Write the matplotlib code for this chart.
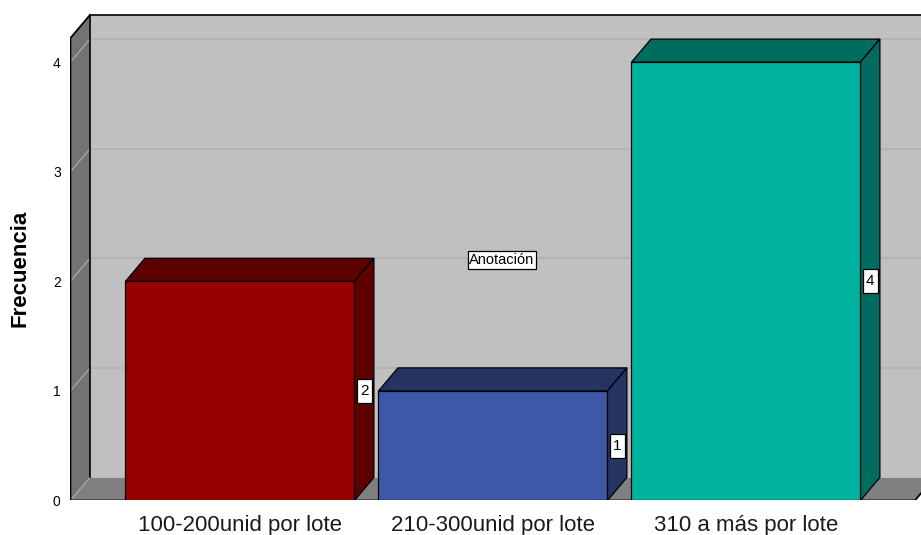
import matplotlib
matplotlib.use("Agg")
import matplotlib.pyplot as plt
from matplotlib.patches import Polygon, Rectangle

# data
categories = ["100-200unid por lote", "210-300unid por lote", "310 a más por lote"]
counts = [2, 1, 4]
front_colors = ["#990000", "#3e58a8", "#00b39e"]
dark_colors = ["#5f0000", "#263463", "#006b5f"]
yticks = [0, 1, 2, 3, 4]

plt.rcParams["font.family"] = ["Liberation Sans", "DejaVu Sans"]

DX, DY = 0.077, 0.21          # depth offset of the 3D look (data units)
X0, X1 = -0.670, 2.692        # front plane x range
FLOOR_R = 2.668
TOP = 4.22                    # front top of left wall
W = 0.905                     # bar width

fig = plt.figure(figsize=(9.21, 5.35), dpi=100)
ax = fig.add_axes([0.0765, 0.0645, 1 - 0.0765, 0.9355])
ax.set_xlim(X0, X1)
ax.set_ylim(0, 4.567)
for s in ax.spines.values():
    s.set_visible(False)


def poly(pts, fc, ec="black", lw=0.9, z=1):
    ax.add_patch(Polygon(pts, closed=True, facecolor=fc, edgecolor=ec,
                         linewidth=lw, zorder=z, joinstyle="miter"))


# back wall
poly([(X0 + DX, DY), (X1 + 1, DY), (X1 + 1, TOP + DY), (X0 + DX, TOP + DY)],
     "#c0c0c0", ec="none", z=0)
for v in yticks[1:]:
    ax.plot([X0 + DX, X1 + 1], [v + DY, v + DY], color="#b0b0b0", lw=1.1, zorder=0.5)
ax.plot([X0 + DX, X1 + 1], [TOP + DY, TOP + DY], color="black", lw=1.2, zorder=2)
ax.plot([X0 + DX, X0 + DX], [DY, TOP + DY], color="black", lw=1.2, zorder=2)

# left wall
poly([(X0, 0), (X0 + DX, DY), (X0 + DX, TOP + DY), (X0, TOP)], "#737373", ec="none", z=1)
for v in yticks[1:]:
    ax.plot([X0, X0 + DX], [v, v + DY], color="#a6a6a6", lw=1.0, zorder=1.5)
ax.plot([X0, X0, X0 + DX], [0, TOP, TOP + DY], color="black", lw=1.3, zorder=2)

# floor
poly([(X0, 0), (FLOOR_R, 0), (FLOOR_R + DX, DY), (X0 + DX, DY)], "#808080", ec="none", z=1)
ax.plot([X0, X0 + DX], [0, DY], color="#a6a6a6", lw=1.0, zorder=1.5)
ax.plot([X0, FLOOR_R, FLOOR_R + DX], [0, 0, DY], color="black", lw=1.3, zorder=2)

# bars
for i, (v, fc, dc) in enumerate(zip(counts, front_colors, dark_colors)):
    l, r = i - W / 2, i + W / 2
    poly([(l, v), (r, v), (r + DX, v + DY), (l + DX, v + DY)], dc, z=3)
    poly([(r, 0), (r + DX, DY), (r + DX, v + DY), (r, v)], dc, z=3)
    poly([(l, 0), (r, 0), (r, v), (l, v)], fc, z=3)
    # value label box on side face
    cx, cy = r + DX / 2, v / 2
    ax.add_patch(Rectangle((cx - 0.03, cy - 0.11), 0.06, 0.22, facecolor="white",
                           edgecolor="black", linewidth=0.9, zorder=4))
    ax.text(cx, cy, str(v), ha="center", va="center", fontsize=11, zorder=5)

ax.text(1.036, 2.194, "Anotación", ha="center", va="center", fontsize=10.5, zorder=5,
        bbox=dict(boxstyle="square,pad=0.12", facecolor="white", edgecolor="black",
                  linewidth=0.9))

ax.set_yticks(yticks)
ax.set_yticklabels([str(t) for t in yticks], fontsize=10)
ax.set_xticks(range(len(categories)))
ax.set_xticklabels(categories, fontsize=16, color="#1a1a1a")
ax.tick_params(axis="both", length=0)
ax.tick_params(axis="y", pad=7)
ax.tick_params(axis="x", pad=10.5)

fig.text(20 / 921, 1 - 268 / 535, "Frecuencia", rotation=90, ha="center", va="center",
         fontsize=16, fontweight="bold")

fig.savefig("out.png", dpi=100)
